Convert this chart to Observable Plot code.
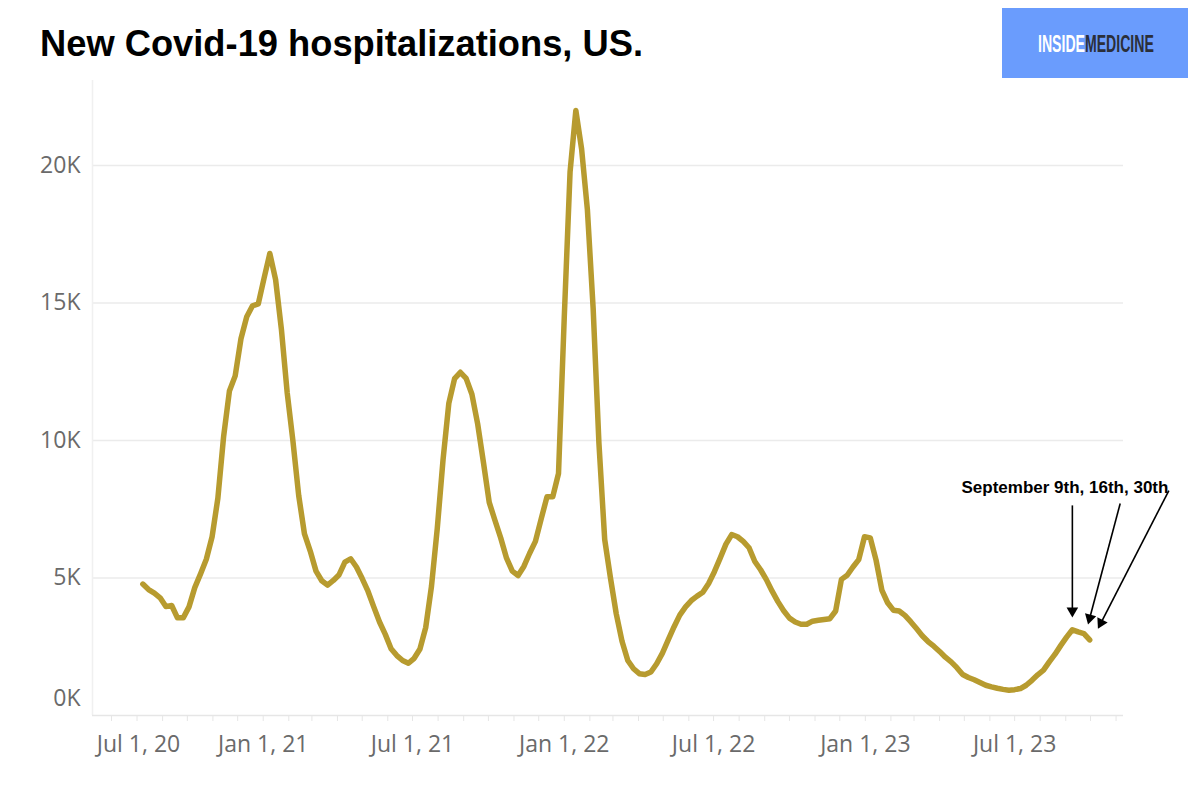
<!DOCTYPE html>
<html>
<head>
<meta charset="utf-8">
<script src="https://cdn.jsdelivr.net/npm/d3@7"></script>
<script src="https://cdn.jsdelivr.net/npm/@observablehq/plot@0.6"></script>
<style>
  body { margin: 0; background: #fff; }
  #wrap { position: relative; width: 1200px; height: 799px; overflow: hidden; background: #fff; }
  #chart { position: absolute; left: 0; top: 0; }
  #title { position: absolute; left: 40px; top: 26px; font: bold 36.3px/36px "Liberation Sans", Arial, sans-serif; color: #000; white-space: nowrap; }
  #logo { position: absolute; left: 1002px; top: 8px; }
</style>
</head>
<body>
<div id="wrap">
  <div id="chart"></div>
  <div id="title">New Covid-19 hospitalizations, US.</div>
  <svg id="logo" width="186" height="70">
    <rect width="186" height="70" fill="#6a9cfd"/>
    <g transform="translate(36,43.7) scale(0.6,1)">
      <text x="0" y="0" font-family="'Liberation Sans', Arial, sans-serif" font-weight="bold" font-size="23.5"><tspan fill="#ffffff">INSIDE</tspan><tspan fill="#2b2f3a">MEDICINE</tspan></text>
    </g>
  </svg>
</div>
<script>
// ---- data (weekly average new Covid-19 hospital admissions) ----
const firstWeek = "2020-08-08";
const weeklyNewAdmissions = [
  4780, 4580, 4450, 4280, 3960, 4000, 3550, 3550, 3950, 4650,
  5150, 5680, 6500, 7900, 10150, 11800, 12350, 13700, 14500, 14900,
  14970, 15900, 16800, 15850, 14050, 11750, 9980, 8000, 6600, 5980,
  5250, 4900, 4740, 4910, 5120, 5575, 5700, 5400, 4980, 4520,
  3950, 3400, 2950, 2430, 2180, 2000, 1900, 2080, 2420, 3200,
  4700, 6800, 9300, 11350, 12250, 12480, 12260, 11680, 10600, 9200,
  7750, 7090, 6450, 5720, 5250, 5090, 5420, 5900, 6330, 7150,
  7950, 7950, 8800, 14500, 19760, 22000, 20600, 18400, 14800, 9900,
  6400, 5000, 3700, 2700, 2000, 1700, 1520, 1490, 1580, 1880,
  2270, 2750, 3220, 3650, 3950, 4180, 4340, 4480, 4800, 5230,
  5720, 6230, 6580, 6500, 6330, 6100, 5600, 5300, 4940, 4520,
  4140, 3810, 3540, 3400, 3320, 3320, 3430, 3460, 3490, 3520,
  3800, 4950, 5100, 5400, 5670, 6500, 6460, 5650, 4560, 4100,
  3830, 3800, 3640, 3410, 3160, 2900, 2690, 2520, 2330, 2120,
  1950, 1740, 1490, 1380, 1300, 1200, 1100, 1040, 990, 950,
  920, 940, 980, 1100, 1280, 1480, 1650, 1950, 2230, 2550,
  2850, 3120, 3040, 2980, 2750
];
const yTickValues = [0, 5000, 10000, 15000, 20000];
const xTickDates = ["2020-07-01", "2021-01-01", "2021-07-01", "2022-01-01", "2022-07-01", "2023-01-01", "2023-07-01"];
const annotationLabel = "September 9th, 16th, 30th";
const annotationLabelAt = { date: "2023-08-31", value: 8290 };
const annotationArrows = [
  { from: "2023-09-09", fromValue: 7640, to: "2023-09-09", toValue: 3560 },
  { from: "2023-11-06", fromValue: 7710, to: "2023-09-28", toValue: 3310 },
  { from: "2024-01-04", fromValue: 8180, to: "2023-10-10", toValue: 3150 }
];

// ---- build ----
const parse = s => new Date(s + "T00:00:00Z");
const start = parse(firstWeek);
const series = weeklyNewAdmissions.map((v, i) => ({ date: d3.utcDay.offset(start, 7 * i), value: v }));
const xTicks = xTickDates.map(parse);
const xDomain = [parse("2020-06-08"), parse("2023-11-10")];
const monthTicks = d3.utcMonth.range(parse("2020-07-01"), parse("2023-11-02"));
const fmtX = d3.utcFormat("%b %-d, %y");
const fmtY = d => (d / 1000) + "K";
const arrowsRaw = annotationArrows.map(a => ({ x1: parse(a.from), y1: a.fromValue, x2: parse(a.to), y2: a.toValue }));
const labelData = [{ date: parse(annotationLabelAt.date), value: annotationLabelAt.value, text: annotationLabel }];

const headR = 4.3;
const headTip = 2 * Math.sqrt((Math.PI * headR * headR) / (Math.sqrt(3) * 3));

function build(shafts, heads) {
  return Plot.plot({
    width: 1200,
    height: 799,
    marginLeft: 92,
    marginRight: 77,
    marginTop: 80,
    marginBottom: 84,
    style: { fontFamily: '"Open Sans", sans-serif', fontSize: "23px", color: "#666", background: "#fff", overflow: "visible" },
    x: { type: "utc", domain: xDomain, axis: null },
    y: { domain: [0, 23090], axis: null },
    marks: [
      Plot.gridY(yTickValues.slice(1), { stroke: "#ebebeb", strokeOpacity: 1, strokeWidth: 1.5 }),
      Plot.ruleX([xDomain[0]], { stroke: "#f0f0f0", strokeWidth: 1.5 }),
      Plot.ruleY([0], { stroke: "#e6e6e6", strokeWidth: 1.5 }),
      Plot.axisX({ ticks: monthTicks, tickSize: 6, tickFormat: () => "", stroke: "#e6e6e6", strokeOpacity: 1 }),
      Plot.axisX({ ticks: xTicks.slice(1), tickSize: 0, tickPadding: 20, tickFormat: fmtX, fill: "#6a6a6a" }),
      Plot.axisX({ ticks: xTicks.slice(0, 1), tickSize: 0, tickPadding: 20, tickFormat: fmtX, fill: "#6a6a6a", dx: 27 }),
      Plot.axisY({ ticks: yTickValues.slice(1), tickSize: 0, tickPadding: 12, tickFormat: fmtY, fill: "#6a6a6a" }),
      Plot.axisY({ ticks: yTickValues.slice(0, 1), tickSize: 0, tickPadding: 12, tickFormat: fmtY, fill: "#6a6a6a", dy: -17 }),
      Plot.line(series, { x: "date", y: "value", stroke: "#b79b2f", strokeWidth: 5.5, strokeLinejoin: "round", strokeLinecap: "round" }),
      Plot.link(shafts, { x1: "x1", y1: "y1", x2: "x2", y2: "y2", stroke: "#000", strokeWidth: 1.6 }),
      Plot.dot(heads, { x: "x", y: "y", symbol: "triangle", r: headR, fill: "#000", stroke: "none", rotate: "angle" }),
      Plot.text(labelData, { x: "date", y: "value", text: "text", fontFamily: '"Liberation Sans", Arial, sans-serif', fontWeight: "bold", fontSize: 17, fill: "#000" })
    ]
  });
}

// first pass: get scales to orient the filled arrow heads
const probe = build(arrowsRaw, []);
const sx = probe.scale("x"), sy = probe.scale("y");
const heads = [], shafts = [];
for (const a of arrowsRaw) {
  const px1 = sx.apply(a.x1), py1 = sy.apply(a.y1), px2 = sx.apply(a.x2), py2 = sy.apply(a.y2);
  const len = Math.hypot(px2 - px1, py2 - py1);
  const ux = (px2 - px1) / len, uy = (py2 - py1) / len;
  const cx = px2 - ux * headTip, cy = py2 - uy * headTip;
  const angle = Math.atan2(ux, -uy) * 180 / Math.PI;
  heads.push({ x: sx.invert(cx), y: sy.invert(cy), angle });
  shafts.push({ x1: a.x1, y1: a.y1, x2: sx.invert(cx), y2: sy.invert(cy) });
}
document.getElementById("chart").appendChild(build(shafts, heads));
</script>
</body>
</html>
